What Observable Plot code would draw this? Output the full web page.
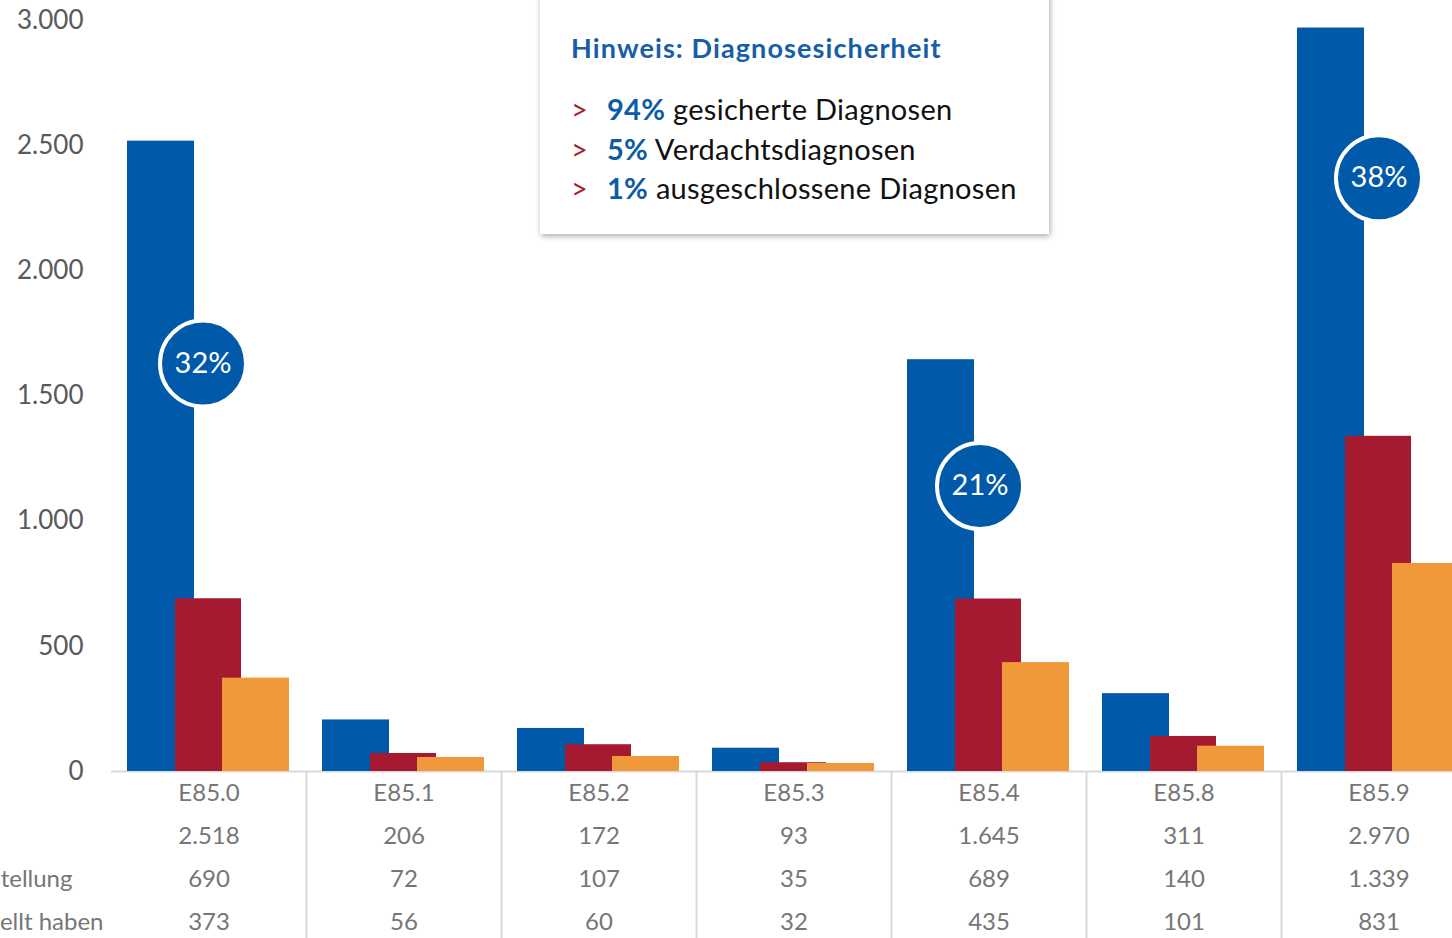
<!DOCTYPE html>
<html>
<head>
<meta charset="utf-8">
<script src="https://cdn.jsdelivr.net/npm/d3@7"></script>
<script src="https://cdn.jsdelivr.net/npm/@observablehq/plot@0.6"></script>
<style>
  html, body { margin: 0; padding: 0; background: #fff; overflow: hidden; }
  #wrap { position: relative; width: 1452px; height: 938px; overflow: hidden; font-family: Lato, "Noto Sans", sans-serif; }
  #wrap svg { max-width: none; }
  .callout { position: absolute; left: 540px; top: -12px; width: 509px; height: 246px; background: #fff;
             box-shadow: 1px 2px 6px rgba(0,0,0,0.35); }
  .callout .t { position: absolute; left: 31px; font-weight: 700; color: #175ea9; font-size: 27px; line-height: 27px; letter-spacing: 1.1px; white-space: nowrap; }
  .callout .l { position: absolute; left: 31px; font-size: 29px; line-height: 29px; color: #111; white-space: nowrap; letter-spacing: 0.3px; }
  .callout .gt { display: inline-block; width: 36px; color: #a6192e; }
  .callout b { color: #0d5ca8; }
</style>
</head>
<body>
<div id="wrap"></div>
<script>
// ---- data ----
const categories = ["E85.0", "E85.1", "E85.2", "E85.3", "E85.4", "E85.8", "E85.9"];
const seriesTotal = [2518, 206, 172, 93, 1645, 311, 2970];
const seriesFirst = [690, 72, 107, 35, 689, 140, 1339];
const seriesOther = [373, 56, 60, 32, 435, 101, 831];
const yTicks = [0, 500, 1000, 1500, 2000, 2500, 3000];
const rowLabels = ["Patienten mit Erstdiagnosestellung", "Ärzte, die die Diagnose gestellt haben"];
const pctLabels = ["32%", "21%", "38%"];
const pctCategories = ["E85.0", "E85.4", "E85.9"];
const pctAt = [1630, 1140, 2370];
const noteTitle = "Hinweis: Diagnosesicherheit";
const notePct = ["94%", "5%", "1%"];
const noteText = ["gesicherte Diagnosen", "Verdachtsdiagnosen", "ausgeschlossene Diagnosen"];

// ---- build ----
const de = d3.formatLocale({decimal: ",", thousands: ".", grouping: [3], currency: ["", "€"]});
const fmt = de.format(",d");
const rows = categories.map((c, i) => ({cat: c, total: seriesTotal[i], first: seriesFirst[i], other: seriesOther[i]}));
const ann = pctLabels.map((p, i) => ({cat: pctCategories[i], pct: p, at: pctAt[i]}));

const BLUE = "#005aa9", RED = "#a51a30", ORANGE = "#f0993a";
const annDx = [-6, -9, 0];

const tableText = "#767676";
const marks = [
  Plot.ruleY([0], {stroke: "#d9d9d9", strokeWidth: 2}),
  Plot.ruleX(categories.slice(1), {x: d => d, dx: -97.5, y1: 0, y2: -720, stroke: "#d9d9d9", strokeWidth: 2}),
  Plot.barY(rows, {x: "cat", y: "total", fill: BLUE, insetLeft: 16, insetRight: 112}),
  Plot.barY(rows, {x: "cat", y: "first", fill: RED, insetLeft: 64, insetRight: 65}),
  Plot.barY(rows, {x: "cat", y: "other", fill: ORANGE, insetLeft: 111, insetRight: 17}),
  Plot.axisY({ticks: yTicks, tickFormat: fmt, tickSize: 0, tickPadding: 28, anchor: "left", label: null,
              fontSize: 26, fill: "#595959"}),
  Plot.text(rows, {x: "cat", y: 0, text: "cat", dy: 22, fontSize: 24, fill: tableText}),
  Plot.text(rows, {x: "cat", y: 0, text: d => fmt(d.total), dy: 65, fontSize: 24, fill: tableText}),
  Plot.text(rows, {x: "cat", y: 0, text: d => fmt(d.first), dy: 108, fontSize: 24, fill: tableText}),
  Plot.text(rows, {x: "cat", y: 0, text: d => fmt(d.other), dy: 151, fontSize: 24, fill: tableText}),
  Plot.text([rowLabels[0]], {frameAnchor: "left", y: 0, text: d => d, textAnchor: "end", dx: -39, dy: 108, fontSize: 24, fill: tableText}),
  Plot.text([rowLabels[1]], {frameAnchor: "left", y: 0, text: d => d, textAnchor: "end", dx: -8, dy: 151, fontSize: 24, fill: tableText})
];
ann.forEach((a, i) => {
  marks.push(Plot.dot([a], {x: "cat", y: "at", r: 43, fill: BLUE, stroke: "white", strokeWidth: 4, dx: annDx[i]}));
  marks.push(Plot.text([a], {x: "cat", y: "at", text: "pct", fill: "white", fontSize: 29, dx: annDx[i]}));
});

const chart = Plot.plot({
  width: 1452,
  height: 938,
  marginLeft: 111,
  marginRight: 0,
  marginTop: 20,
  marginBottom: 167,
  style: {fontFamily: "Lato, 'Noto Sans', sans-serif", background: "white", overflow: "hidden"},
  x: {type: "band", domain: categories, range: [111, 1476], padding: 0, axis: null},
  y: {domain: [0, 3000], range: [771, 20], axis: null},
  marks
});
const wrap = document.getElementById("wrap");
wrap.appendChild(chart);

// callout
const box = document.createElement("div");
box.className = "callout";
const t = document.createElement("div");
t.className = "t";
t.style.top = (47 + 12 - 13.5) + "px";
t.textContent = noteTitle;
box.appendChild(t);
const centers = [108, 148, 187];
notePct.forEach((p, i) => {
  const l = document.createElement("div");
  l.className = "l";
  l.style.top = (centers[i] + 12 - 14.5) + "px";
  const gt = document.createElement("span"); gt.className = "gt"; gt.textContent = ">";
  const b = document.createElement("b"); b.textContent = p;
  l.appendChild(gt); l.appendChild(b); l.appendChild(document.createTextNode(" " + noteText[i]));
  box.appendChild(l);
});
wrap.appendChild(box);
</script>
</body>
</html>
